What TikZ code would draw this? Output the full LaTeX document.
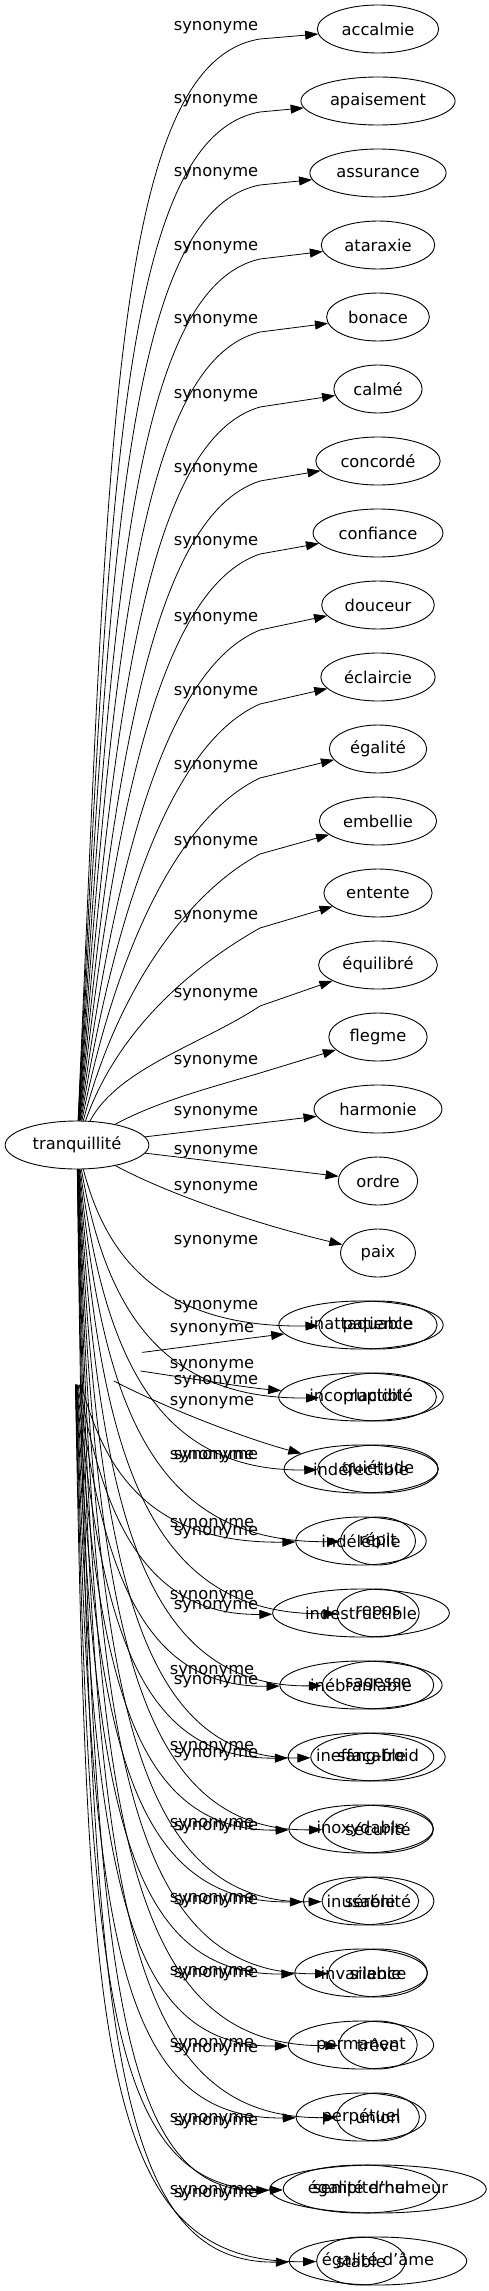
\documentclass[tikz,border=0pt]{standalone}
\usepackage{fontspec}
\setmainfont{DejaVu Sans}
\usetikzlibrary{shapes.geometric,arrows.meta}
\begin{document}
\begin{tikzpicture}[x=1pt,y=-1pt,
  nd/.style={draw, ellipse, line width=0.9pt, minimum height=48pt, minimum width=75pt, inner xsep=6.5pt, inner ysep=1pt, font=\fontsize{16.3}{19}\selectfont},
  lbl/.style={inner sep=0pt, font=\fontsize{16.3}{19}\selectfont},
  edge/.style={line width=0.8pt, -{Triangle[length=13pt,width=9pt]}}]
\useasboundingbox[fill=white] (0,0) rectangle (488,2291);
% roots
\node[nd] (root) at (77,1145) {tranquillité};
\node[ellipse, minimum width=144pt, minimum height=47pt, inner sep=0pt] (rootB) at (75,1361) {};
% synonyms of the first graph
\foreach \k/\t in {1/accalmie,2/apaisement,3/assurance,4/ataraxie,5/bonace,6/calmé,7/concordé,8/confiance,9/douceur,10/éclaircie,11/égalité,12/embellie,13/entente,14/équilibré,15/flegme,16/harmonie,17/ordre,18/paix,19/patience,20/placidité,21/quiétude,22/répit,23/repos,24/sagesse,25/sang-froid,26/sécurité,27/sérénité,28/silence,29/trêve,30/union,31/égalité d'humeur,32/égalité d'âme}
  {\node[nd] (a\k) at (378,{29+72*(\k-1)}) {\t};}
% synonyms of the second graph
\foreach \k/\t in {19/inattaquable,20/incorruptible,21/indéfectible,22/indélébile,23/indestructible,24/inébranlable,25/ineffaçable,26/inoxydable,27/inusable,28/invariable,29/permanent,30/perpétuel,31/sempiternel,32/stable}
  {\node[nd] (b\k) at (361,{29+72*(\k-1)}) {\t};}
% upper edges of the first graph
\foreach \k/\L in {1/28,2/101,3/174,4/248,5/321,6/396,7/470,8/543,9/619,10/693,11/767,12/843,13/917,14/995}{
  \pgfmathsetmacro\myyk{29+72*(\k-1)}
  \pgfmathsetmacro\myWy{\L+11}
  \pgfmathsetmacro\myH{1122-\myWy}
  \pgfmathsetmacro\myf{\myH/1082}
  \pgfmathsetmacro\mycax{108+12*(1-\myf)}
  \pgfmathsetmacro\mycay{1122-(0.45+0.17*\myf)*\myH}
  \pgfmathsetmacro\mydy{\myyk-\myWy}
  \pgfmathsetmacro\mylen{sqrt(62*62+\mydy*\mydy)}
  \pgfmathsetmacro\mylam{60+90*\myf}
  \pgfmathsetmacro\mycbx{260-\mylam*62/\mylen}
  \pgfmathsetmacro\mycby{\myWy-\mylam*\mydy/\mylen}
  \draw[edge] (root) .. controls (\mycax,\mycay) and (\mycbx,\mycby) .. (260,\myWy) -- (a\k);
  \node[lbl] at (216,\L) {synonyme};
}
\draw[edge] (root) .. controls (160,1100) and (220,1085) .. (260,1073) -- (a15);
\node[lbl] at (216,1062) {synonyme};
\draw[edge] (root) -- (a16);
\node[lbl] at (216,1113) {synonyme};
\draw[edge] (root) -- (a17);
\node[lbl] at (216,1152) {synonyme};
\draw[edge] (root) .. controls (170,1195) and (260,1225) .. (a18);
\node[lbl] at (216,1188) {synonyme};
% lower edges of the first graph
\foreach \k/\L in {19/1242,20/1307,21/1382,22/1457,23/1533,24/1607,25/1682,26/1755,27/1828,28/1902,29/1975,30/2050,31/2123,32/2195}{
  \pgfmathsetmacro\myyk{29+72*(\k-1)}
  \pgfmathsetmacro\myg{(\myyk-1169)/1092}
  \pgfmathsetmacro\mycax{88+20*(1-\myg)}
  \pgfmathsetmacro\mycay{1169+(0.5+0.27*\myg)*(\myyk-1169)}
  \pgfmathsetmacro\mycbx{105+60*(1-\myg)}
  \pgfmathsetmacro\mycby{\myyk+3}
  \draw[edge] (root) .. controls (\mycax,\mycay) and (\mycbx,\mycby) .. (a\k);
  \node[lbl] at (216,\L) {synonyme};
}
% edges of the second graph
\draw[edge] (rootB) .. controls (200,1345) and (250,1338) .. (b19);
\node[lbl] at (212,1330) {synonyme};
\draw[edge] (rootB) .. controls (200,1380) and (250,1388) .. (b20);
\node[lbl] at (212,1366) {synonyme};
\draw[edge] (rootB) .. controls (170,1410) and (250,1440) .. (b21);
\node[lbl] at (212,1403) {synonyme};
\foreach \k/\L in {22/1457,23/1525,24/1597,25/1672,26/1748,27/1825,28/1900,29/1973,30/2045,31/2120,32/2192}{
  \pgfmathsetmacro\myyk{29+72*(\k-1)}
  \pgfmathsetmacro\myg{(\myyk-1385)/876}
  \pgfmathsetmacro\mycax{88+20*(1-\myg)}
  \pgfmathsetmacro\mycay{1385+(0.5+0.27*\myg)*(\myyk-1385)}
  \pgfmathsetmacro\mycbx{100+60*(1-\myg)}
  \pgfmathsetmacro\mycby{\myyk+3}
  \draw[edge] (rootB) .. controls (\mycax,\mycay) and (\mycbx,\mycby) .. (b\k);
  \node[lbl] at (212,\L) {synonyme};
}
\end{tikzpicture}
\end{document}
